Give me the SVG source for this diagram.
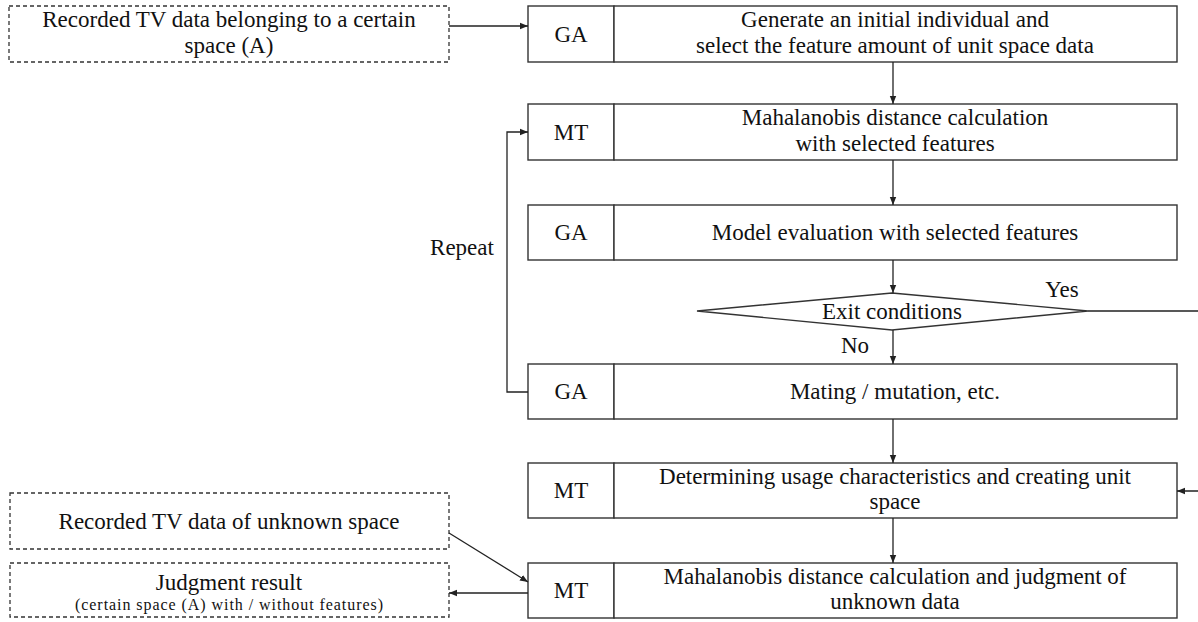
<svg xmlns="http://www.w3.org/2000/svg" width="1198" height="622" viewBox="0 0 1198 622">
<defs>
<marker id="ah" viewBox="0 0 10 10" refX="10" refY="5" markerWidth="8" markerHeight="8" markerUnits="userSpaceOnUse" orient="auto">
<path d="M0,1 L10,5 L0,9 Z" fill="#222"/>
</marker>
<style>
.box{fill:#fff;stroke:#333;stroke-width:1.4}
.dash{fill:#fff;stroke:#333;stroke-width:1.3;stroke-dasharray:4 3}
.t{font-family:'Liberation Serif','Times New Roman','DejaVu Serif',serif;font-size:23px;fill:#111;text-anchor:middle}
.s{font-size:16px}
.conn{fill:none;stroke:#222;stroke-width:1.3}
</style>
</defs>
<rect width="1198" height="622" fill="#fff"/>

<g id="input-a">
<rect class="dash" x="9" y="6" width="440" height="56"/>
<text class="t" x="229" y="27">Recorded TV data belonging to a certain</text>
<text class="t" x="229" y="53">space (A)</text>
</g>

<g id="step1">
<rect class="box" x="528" y="6" width="86" height="56"/>
<rect class="box" x="614" y="6" width="563" height="56"/>
<text class="t" x="571" y="42">GA</text>
<text class="t" x="895" y="27">Generate an initial individual and</text>
<text class="t" x="895" y="53">select the feature amount of unit space data</text>
</g>

<g id="step2">
<rect class="box" x="528" y="104" width="86" height="56"/>
<rect class="box" x="614" y="104" width="563" height="56"/>
<text class="t" x="571" y="140">MT</text>
<text class="t" x="895" y="125">Mahalanobis distance calculation</text>
<text class="t" x="895" y="151">with selected features</text>
</g>

<g id="step3">
<rect class="box" x="528" y="205" width="86" height="55"/>
<rect class="box" x="614" y="205" width="563" height="55"/>
<text class="t" x="571" y="240">GA</text>
<text class="t" x="895" y="240">Model evaluation with selected features</text>
</g>

<g id="decision">
<polygon class="box" points="697,311 892,293 1088,311 892,330"/>
<text class="t" x="892" y="319">Exit conditions</text>
</g>

<g id="step4">
<rect class="box" x="528" y="364" width="86" height="55"/>
<rect class="box" x="614" y="364" width="563" height="55"/>
<text class="t" x="571" y="399">GA</text>
<text class="t" x="895" y="399">Mating / mutation, etc.</text>
</g>

<g id="step5">
<rect class="box" x="528" y="463" width="86" height="55"/>
<rect class="box" x="614" y="463" width="563" height="55"/>
<text class="t" x="571" y="498">MT</text>
<text class="t" x="895" y="484">Determining usage characteristics and creating unit</text>
<text class="t" x="895" y="509">space</text>
</g>

<g id="step6">
<rect class="box" x="528" y="563" width="86" height="55"/>
<rect class="box" x="614" y="563" width="563" height="55"/>
<text class="t" x="571" y="598">MT</text>
<text class="t" x="895" y="584">Mahalanobis distance calculation and judgment of</text>
<text class="t" x="895" y="609">unknown data</text>
</g>

<g id="input-unknown">
<rect class="dash" x="10" y="493" width="439" height="56"/>
<text class="t" x="229" y="529">Recorded TV data of unknown space</text>
</g>

<g id="result">
<rect class="dash" x="10" y="563" width="439" height="54"/>
<text class="t" x="229" y="590">Judgment result</text>
<text class="t s" x="229" y="610" textLength="308" lengthAdjust="spacing">(certain space (A) with / without features)</text>
</g>

<g id="connectors">
<path class="conn" d="M449,26 H528" marker-end="url(#ah)"/>
<path class="conn" d="M893,62 V104" marker-end="url(#ah)"/>
<path class="conn" d="M893,160 V205" marker-end="url(#ah)"/>
<path class="conn" d="M893,260 V293" marker-end="url(#ah)"/>
<path class="conn" d="M893,330 V364" marker-end="url(#ah)"/>
<path class="conn" d="M893,419 V463" marker-end="url(#ah)"/>
<path class="conn" d="M893,518 V563" marker-end="url(#ah)"/>
<path class="conn" d="M528,392 H507 V132 H528" marker-end="url(#ah)"/>
<path class="conn" d="M1088,311 H1200 V491 H1177" marker-end="url(#ah)"/>
<path class="conn" d="M449,533 L528,582" marker-end="url(#ah)"/>
<path class="conn" d="M528,593 H449" marker-end="url(#ah)"/>
<text class="t" x="462" y="255">Repeat</text>
<text class="t" x="1062" y="297">Yes</text>
<text class="t" x="855" y="353">No</text>
</g>
</svg>
